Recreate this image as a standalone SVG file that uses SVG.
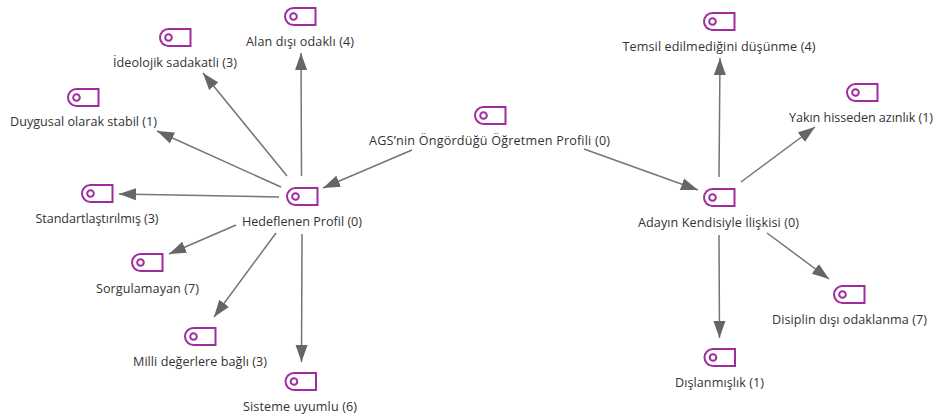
<svg xmlns="http://www.w3.org/2000/svg" width="933" height="417" viewBox="0 0 933 417">
<style>
text{font-family:"Open Sans","Noto Sans","Liberation Sans",sans-serif;font-size:12.600px;fill:#333;text-anchor:middle}
.c line{stroke:#757575;stroke-width:1.500;marker-end:url(#a)}
.i{fill:none;stroke:#a02da0;stroke-width:2}
</style>
<defs>
<marker id="a" markerUnits="userSpaceOnUse" markerWidth="18" markerHeight="14" refX="17" refY="6.500" orient="auto"><path d="M0 0.500L17 6.500L0 12.500Z" fill="#666"/></marker>
<g id="t"><path class="i" d="M10 1H32V18H10A8.500 8.500 0 0 1 10 1Z"/><circle class="i" cx="10" cy="9.500" r="3.300"/></g>
</defs>
<rect width="933" height="417" fill="#fff"/>
<g class="c" id="connectors">
<line x1="301.500" y1="176" x2="301" y2="53"/>
<line x1="287" y1="176" x2="203" y2="73"/>
<line x1="281" y1="187" x2="157" y2="131"/>
<line x1="279" y1="197" x2="119" y2="194"/>
<line x1="236" y1="225" x2="169" y2="254"/>
<line x1="276" y1="233" x2="214" y2="317"/>
<line x1="302" y1="234" x2="301.500" y2="362"/>
<line x1="412" y1="150" x2="323" y2="188"/>
<line x1="584" y1="149" x2="698" y2="190"/>
<line x1="719" y1="177" x2="720" y2="58"/>
<line x1="741" y1="182" x2="815" y2="127"/>
<line x1="767" y1="233" x2="829" y2="279"/>
<line x1="719" y1="235" x2="719.500" y2="338"/>
</g>
<g id="n1"><use href="#t" x="285.500" y="187"/><text x="302" y="226" textLength="120">Hedeflenen Profil (0)</text></g>
<g id="n2"><use href="#t" x="283.500" y="7"/><text x="300" y="46" textLength="108">Alan dışı odaklı (4)</text></g>
<g id="n3"><use href="#t" x="158.500" y="28"/><text x="175" y="67" textLength="124">İdeolojik sadakatli (3)</text></g>
<g id="n4"><use href="#t" x="66.500" y="88"/><text x="83.500" y="126" textLength="147">Duygusal olarak stabil (1)</text></g>
<g id="n5"><use href="#t" x="80.500" y="184"/><text x="97" y="222.500" textLength="123">Standartlaştırılmış (3)</text></g>
<g id="n6"><use href="#t" x="130.500" y="253"/><text x="147.500" y="292.500" textLength="103">Sorgulamayan (7)</text></g>
<g id="n7"><use href="#t" x="183.500" y="327"/><text x="200" y="366" textLength="134">Milli değerlere bağlı (3)</text></g>
<g id="n8"><use href="#t" x="284" y="372"/><text x="300" y="411" textLength="114">Sisteme uyumlu (6)</text></g>
<g id="n9"><use href="#t" x="473.500" y="106"/><text x="489.500" y="145" textLength="241">AGS’nin Öngördüğü Öğretmen Profili (0)</text></g>
<g id="n10"><use href="#t" x="702.500" y="188"/><text x="718.500" y="227" textLength="161">Adayın Kendisiyle İlişkisi (0)</text></g>
<g id="n11"><use href="#t" x="702.500" y="12"/><text x="719" y="51" textLength="193">Temsil edilmediğini düşünme (4)</text></g>
<g id="n12"><use href="#t" x="845.500" y="83"/><text x="861" y="122" textLength="144">Yakın hisseden azınlık (1)</text></g>
<g id="n13"><use href="#t" x="832.500" y="285"/><text x="849.500" y="324" textLength="155">Disiplin dışı odaklanma (7)</text></g>
<g id="n14"><use href="#t" x="703" y="348"/><text x="719.500" y="387" textLength="89">Dışlanmışlık (1)</text></g>
</svg>
